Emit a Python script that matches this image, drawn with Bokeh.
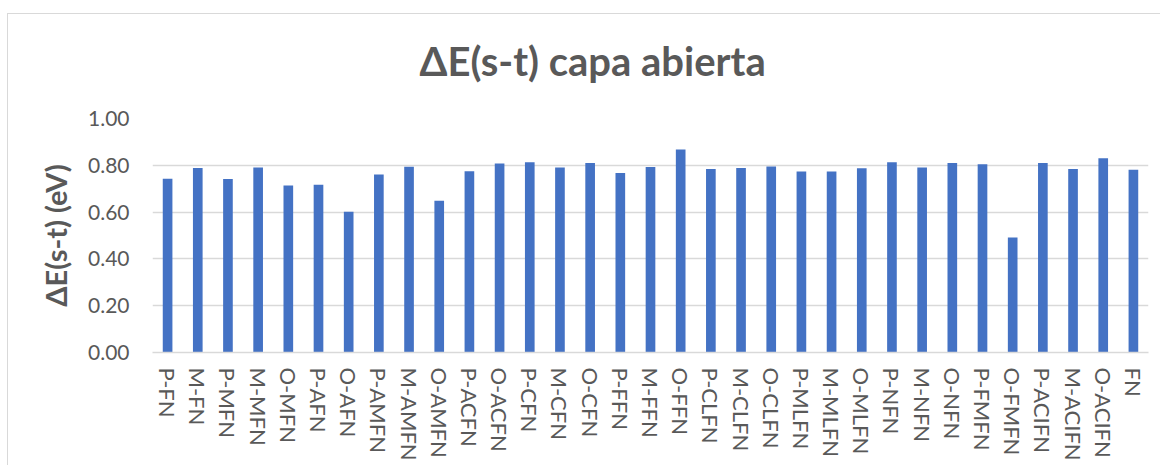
from bokeh.plotting import figure
from bokeh.models import FactorRange, Range1d, NumeralTickFormatter, FixedTicker, ColumnDataSource
from bokeh.embed import file_html
from bokeh.resources import INLINE

categories = ["P-FN", "M-FN", "P-MFN", "M-MFN", "O-MFN", "P-AFN", "O-AFN", "P-AMFN", "M-AMFN", "O-AMFN",
              "P-ACFN", "O-ACFN", "P-CFN", "M-CFN", "O-CFN", "P-FFN", "M-FFN", "O-FFN", "P-CLFN", "M-CLFN",
              "O-CLFN", "P-MLFN", "M-MLFN", "O-MLFN", "P-NFN", "M-NFN", "O-NFN", "P-FMFN", "O-FMFN",
              "P-ACIFN", "M-ACIFN", "O-ACIFN", "FN"]
values = [0.742, 0.788, 0.741, 0.791, 0.714, 0.717, 0.602, 0.761, 0.794, 0.649,
          0.775, 0.808, 0.813, 0.791, 0.810, 0.767, 0.793, 0.868, 0.784, 0.788,
          0.795, 0.773, 0.774, 0.787, 0.813, 0.791, 0.810, 0.805, 0.491,
          0.810, 0.784, 0.830, 0.781]
y_ticks = [0.0, 0.2, 0.4, 0.6, 0.8, 1.0]
title_text = "ΔE(s-t) capa abierta"
y_label = "ΔE(s-t) (eV)"

TXT = "#595959"
GRID = "#d9d9d9"

chart_frame_css = {
    "background-color": "#ffffff",
    "background-image": "linear-gradient(#d9d9d9, #d9d9d9), linear-gradient(#d9d9d9, #d9d9d9)",
    "background-position": "7px 13px, 7px 13px",
    "background-size": "100% 1px, 1px 100%",
    "background-repeat": "no-repeat",
}

p = figure(x_range=FactorRange(factors=categories), y_range=Range1d(0, 1.0),
           width=1160, height=465, output_backend="svg", toolbar_location=None,
           min_border_left=152, min_border_right=12, min_border_top=118, min_border_bottom=113,
           title=title_text, border_fill_color=None, background_fill_color="#ffffff",
           styles=chart_frame_css)

src = ColumnDataSource(dict(cat=categories, val=values))
p.vbar(x="cat", top="val", width=0.32, source=src, color="#4472C4", line_color=None)

p.title.text_font = "Lato"
p.title.text_font_size = "40px"
p.title.text_font_style = "bold"
p.title.text_color = TXT
p.title.align = "left"
p.title.offset = 267
p.title.standoff = 67

p.outline_line_color = None
p.xgrid.grid_line_color = None
p.ygrid.grid_line_color = GRID
p.ygrid.grid_line_width = 1.3

p.yaxis.ticker = FixedTicker(ticks=y_ticks)
p.yaxis.formatter = NumeralTickFormatter(format="0.00")
p.yaxis.axis_line_color = None
p.yaxis.major_tick_line_color = None
p.yaxis.minor_tick_line_color = None
p.yaxis.major_tick_out = 0
p.yaxis.major_tick_in = 0
p.yaxis.major_label_text_font = "Lato"
p.yaxis.major_label_text_font_size = "21px"
p.yaxis.major_label_text_color = TXT
p.yaxis.major_label_standoff = 23
p.yaxis.axis_label = y_label
p.yaxis.axis_label_text_font = "Lato"
p.yaxis.axis_label_text_font_size = "29px"
p.yaxis.axis_label_text_font_style = "bold"
p.yaxis.axis_label_text_color = TXT
p.yaxis.axis_label_standoff = 12

p.xaxis.axis_line_color = GRID
p.xaxis.axis_line_width = 1.3
p.xaxis.major_tick_line_color = None
p.xaxis.minor_tick_line_color = None
p.xaxis.major_tick_out = 0
p.xaxis.major_tick_in = 0
p.xaxis.major_label_orientation = "vertical"
p.xaxis.major_label_text_font = "Lato"
p.xaxis.major_label_text_font_size = "22px"
p.xaxis.major_label_text_color = TXT
p.xaxis.major_label_standoff = 15

open("out.html", "w").write(file_html(p, INLINE))
